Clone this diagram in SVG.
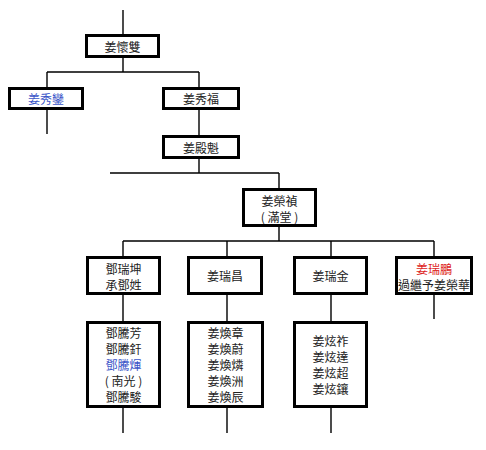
<svg xmlns="http://www.w3.org/2000/svg" width="486" height="450" viewBox="0 0 486 450">
<style>
.box{fill:#fff;stroke:#000;stroke-width:3}
.ln{fill:none;stroke:#000;stroke-width:1.4}
text{font-family:"Noto Sans CJK TC","Noto Sans CJK SC",sans-serif;font-size:12px;fill:#222;text-anchor:middle;dominant-baseline:central}
.blue{fill:#3a55c8}
.red{fill:#dd2222}
</style>
<rect width="486" height="450" fill="#fff"/>
<g id="connectors" class="ln">
<path d="M123 10V35M123 58V72M47 72H199M47 72V87M199 72V87M47 110V134M199 110V135M199 159V173M110 173H279M279 173V188M279 227V241M123 241H434M123 241V256M227 241V256M331 241V256M434 241V256M123 295V321M227 295V321M331 295V321M434 295V319M123 408V433M227 408V433M331 408V433"/>
</g>
<g id="n1"><rect class="box" x="86.5" y="35.5" width="72" height="21"/><text x="122.5" y="46.5">姜懷雙</text></g>
<g id="n2"><rect class="box" x="9.5" y="88.5" width="73" height="20"/><text class="blue" x="46" y="98.5">姜秀鑾</text></g>
<g id="n3"><rect class="box" x="163.5" y="88.5" width="75" height="20"/><text x="201" y="98.5">姜秀福</text></g>
<g id="n4"><rect class="box" x="163.5" y="136.5" width="75" height="21"/><text x="201" y="147">姜殿魁</text></g>
<g id="n5"><rect class="box" x="243.5" y="189.5" width="72" height="36"/><text x="279.5" y="200.5">姜榮禎</text><text x="279.5" y="216.5">( 滿堂 )</text></g>
<g id="n6"><rect class="box" x="87.5" y="257.5" width="72" height="36"/><text x="123.5" y="268.5">鄧瑞坤</text><text x="123.5" y="284.5">承鄧姓</text></g>
<g id="n7"><rect class="box" x="188.5" y="257.5" width="73" height="36"/><text x="225" y="275.5">姜瑞昌</text></g>
<g id="n8"><rect class="box" x="294.5" y="257.5" width="72" height="36"/><text x="330.5" y="275.5">姜瑞金</text></g>
<g id="n9"><rect class="box" x="396.5" y="257.5" width="75" height="36"/><text class="red" x="434" y="268.5">姜瑞鵬</text><text x="434" y="284.5">過繼予姜榮華</text></g>
<g id="n10"><rect class="box" x="87.5" y="322.5" width="72" height="84"/><text x="123.5" y="332.5">鄧騰芳</text><text x="123.5" y="348.5">鄧騰釬</text><text class="blue" x="123.5" y="364.5">鄧騰煇</text><text x="123.5" y="380.5">( 南光 )</text><text x="123.5" y="396.5">鄧騰駿</text></g>
<g id="n11"><rect class="box" x="188.5" y="322.5" width="74" height="84"/><text x="225.5" y="332.5">姜煥章</text><text x="225.5" y="348.5">姜煥蔚</text><text x="225.5" y="364.5">姜煥燐</text><text x="225.5" y="380.5">姜煥洲</text><text x="225.5" y="396.5">姜煥辰</text></g>
<g id="n12"><rect class="box" x="294.5" y="322.5" width="72" height="84"/><text x="330.5" y="340.5">姜炫祚</text><text x="330.5" y="356.5">姜炫達</text><text x="330.5" y="372.5">姜炫超</text><text x="330.5" y="388.5">姜炫鑲</text></g>
</svg>
